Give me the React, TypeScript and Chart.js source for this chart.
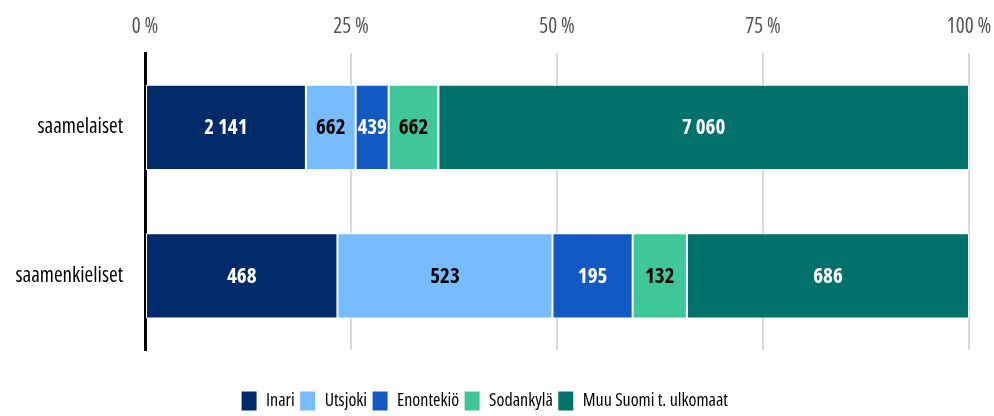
import React, { useEffect, useRef } from "react";
import { Chart, registerables } from "chart.js";

Chart.register(...registerables);

const categories = ["saamelaiset", "saamenkieliset"];
const seriesNames = ["Inari", "Utsjoki", "Enontekiö", "Sodankylä", "Muu Suomi t. ulkomaat"];
const inari = [2141, 468];
const utsjoki = [662, 523];
const enontekio = [439, 195];
const sodankyla = [662, 132];
const muu = [7060, 686];
const tickValues = [0, 25, 50, 75, 100];

const colors = ["#012a6b", "#76bcfe", "#1259c3", "#3fc799", "#00716b"];
const labelColors = ["#ffffff", "#000000", "#ffffff", "#000000", "#ffffff"];

const FONT = "'Open Sans', sans-serif";
const STRETCH = "condensed" as any;

const fmt = (n: number) => String(n).replace(/\B(?=(\d{3})+(?!\d))/g, " ");

export default function App() {
  const ref = useRef<HTMLCanvasElement | null>(null);
  useEffect(() => {
    document.body.style.margin = "0";
    const raw = [inari, utsjoki, enontekio, sodankyla, muu];
    const totals = categories.map((_, i) => raw.reduce((s, a) => s + a[i], 0));
    const datasets = raw.map((arr, k) => ({
      label: seriesNames[k],
      data: arr.map((v, i) => (v / totals[i]) * 100),
      rawValues: arr,
      backgroundColor: colors[k],
      borderColor: "#ffffff",
      borderWidth: 1,
      borderSkipped: false,
      categoryPercentage: 1,
      barPercentage: 0.575,
    }));

    const labelPlugin = {
      id: "barLabels",
      afterDatasetsDraw(chart: any) {
        const ctx = chart.ctx;
        ctx.save();
        ctx.font = `condensed bold 21px ${FONT}`;
        ctx.textAlign = "center";
        ctx.textBaseline = "middle";
        chart.data.datasets.forEach((ds: any, k: number) => {
          const meta = chart.getDatasetMeta(k);
          meta.data.forEach((el: any, i: number) => {
            const { x, base, y } = el.getProps(["x", "base", "y"], true);
            ctx.fillStyle = labelColors[k];
            ctx.fillText(fmt(ds.rawValues[i]), (x + base) / 2, y + 1);
          });
        });
        ctx.restore();
      },
    };

    const chart = new Chart(ref.current!, {
      type: "bar",
      data: { labels: categories, datasets: datasets as any },
      options: {
        indexAxis: "y",
        animation: false,
        responsive: false,
        maintainAspectRatio: false,
        layout: { padding: { top: 0, right: 25, left: 0, bottom: -5 } },
        scales: {
          x: {
            position: "top",
            stacked: true,
            min: 0,
            max: 100,
            afterBuildTicks: (scale: any) => {
              scale.ticks = tickValues.map((v) => ({ value: v }));
            },
            afterFit: (scale: any) => {
              scale.paddingLeft = 0;
              scale.paddingRight = 0;
            },
            ticks: {
              callback: (v: any) => `${v} %`,
              color: "#555555",
              font: { family: FONT, size: 21, weight: STRETCH },
              padding: 14,
            },
            grid: { color: "#d9d9d9", lineWidth: 2, drawTicks: false },
            border: { display: false },
          },
          y: {
            stacked: true,
            afterFit: (scale: any) => {
              scale.width = 145;
            },
            ticks: {
              color: "#000000",
              font: { family: FONT, size: 21, weight: STRETCH },
              padding: 22,
            },
            grid: { display: false, drawTicks: false },
            border: { display: true, color: "#000000", width: 3 },
          },
        },
        plugins: {
          legend: {
            position: "bottom",
            title: { display: true, text: " ", font: { size: 10 }, padding: { top: 0, bottom: 24 } },
            labels: {
              boxWidth: 16,
              boxHeight: 20,
              padding: 5,
              color: "#000000",
              font: { family: FONT, size: 18, weight: STRETCH },
            },
          },
          tooltip: { enabled: false },
        },
      },
      plugins: [labelPlugin],
    });
    return () => chart.destroy();
  }, []);
  return (
    <div style={{ width: 994, height: 416 }}>
      <canvas ref={ref} width={994} height={416} style={{ width: 994, height: 416, display: "block" }} />
    </div>
  );
}
